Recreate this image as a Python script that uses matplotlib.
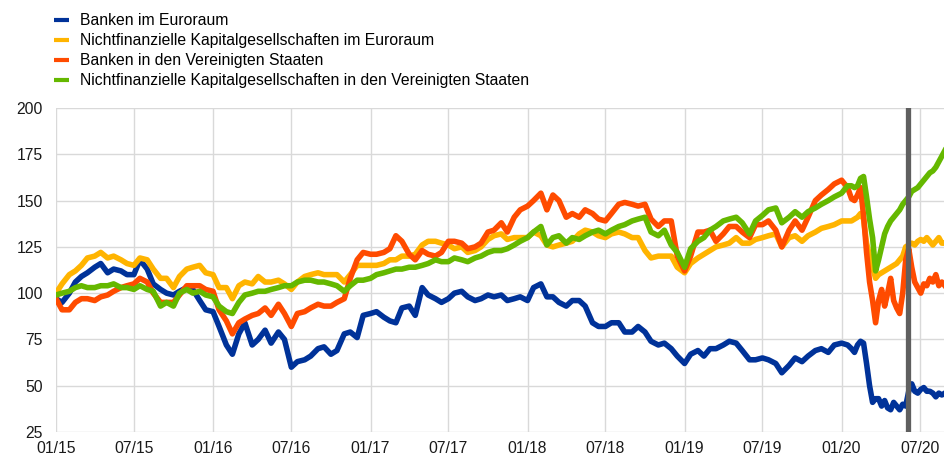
import pandas as pd
import matplotlib
matplotlib.use("Agg")
from matplotlib import pyplot as plt
import matplotlib.dates as mdates

plt.rcParams['font.family'] = ['Liberation Sans', 'DejaVu Sans']

# semi-monthly up to mid January 2020, weekly afterwards
dates = pd.date_range('2015-01-01', '2020-01-15', freq='SMS').append(
    pd.date_range('2020-01-24', '2020-08-28', freq='W-FRI'))

banken_ea = [97, 95, 100, 106, 109, 111, 114, 116, 111, 113, 112, 110,
             110, 118, 113, 105, 102, 100, 99, 101, 103, 102, 96, 91,
             90, 82, 72, 67, 78, 84, 72, 75, 80, 73, 79, 75,
             60, 63, 64, 66, 70, 71, 67, 69, 78, 79, 76, 88,
             89, 90, 87, 85, 84, 92, 93, 88, 103, 99, 97, 95,
             97, 100, 101, 98, 96, 97, 99, 98, 99, 96, 97, 98,
             96, 103, 105, 98, 98, 95, 93, 96, 96, 93, 84, 82,
             82, 84, 84, 79, 79, 82, 79, 74, 72, 73, 70, 66,
             62, 67, 69, 66, 70, 70, 72, 74, 73, 69, 64, 64,
             65, 64, 62, 57, 61, 65, 63, 66, 69, 70, 68, 72,
             73, 72,
             70, 68, 72, 74, 73, 62, 50, 41, 43, 43, 39, 42, 38, 37, 41, 39,
             37, 40, 39, 47, 51, 47, 46, 48, 49, 47, 47, 46, 44, 46, 45, 46]

nfc_ea = [100, 105, 110, 112, 115, 119, 120, 122, 119, 120, 118, 116,
          115, 119, 118, 113, 108, 108, 103, 109, 113, 114, 115, 111,
          110, 103, 103, 97, 104, 106, 105, 109, 106, 106, 107, 105,
          102, 106, 109, 110, 111, 110, 110, 110, 106, 110, 115, 115,
          115, 115, 116, 118, 118, 120, 120, 121, 126, 128, 128, 127,
          126, 124, 125, 122, 123, 125, 129, 131, 132, 129, 130, 130,
          130, 133, 131, 126, 125, 126, 127, 128, 132, 134, 133, 131,
          130, 132, 133, 132, 130, 130, 123, 119, 120, 120, 120, 114,
          111, 116, 119, 121, 123, 125, 126, 127, 130, 127, 127, 129,
          130, 131, 132, 125, 130, 131, 128, 131, 133, 135, 136, 137,
          139, 139,
          139, 140, 141, 143, 140, 127, 120, 114, 108, 110, 111, 112, 113, 114, 115, 116,
          118, 120, 125, 126, 127, 126, 128, 129, 128, 130, 128, 126, 128, 130, 127, 127]

banken_us = [97, 91, 91, 95, 97, 97, 96, 98, 99, 101, 103, 104,
             105, 108, 106, 100, 95, 95, 95, 99, 104, 104, 104, 102,
             101, 91, 85, 78, 84, 86, 88, 89, 92, 88, 94, 89,
             82, 89, 90, 92, 94, 93, 93, 95, 97, 108, 118, 122,
             121, 121, 122, 124, 131, 128, 121, 118, 123, 121, 120, 122,
             128, 128, 127, 124, 125, 127, 133, 134, 138, 133, 141, 145,
             147, 150, 154, 145, 153, 150, 141, 143, 141, 145, 143, 140,
             139, 143, 148, 149, 148, 147, 148, 140, 136, 139, 139, 120,
             112, 120, 133, 133, 134, 128, 132, 136, 136, 133, 130, 137,
             137, 139, 134, 125, 134, 139, 134, 141, 150, 153, 156, 159,
             161, 157,
             151, 150, 153, 157, 142, 122, 106, 96, 84, 96, 102, 93, 100, 108, 96, 92,
             89, 100, 118, 124, 114, 106, 103, 100, 105, 104, 108, 106, 110, 104, 106, 104]

nfc_us = [99, 100, 101, 103, 104, 103, 103, 104, 104, 105, 103, 103,
          102, 104, 102, 101, 93, 95, 93, 100, 102, 100, 101, 99,
          98, 93, 90, 89, 95, 99, 100, 101, 101, 102, 103, 104,
          104, 106, 107, 107, 106, 106, 105, 104, 101, 104, 107, 107,
          108, 110, 111, 112, 113, 113, 114, 114, 115, 116, 118, 117,
          117, 119, 118, 117, 119, 120, 122, 123, 123, 124, 126, 128,
          130, 133, 136, 126, 130, 131, 127, 130, 129, 131, 133, 134,
          132, 134, 136, 137, 139, 140, 141, 133, 131, 134, 126, 122,
          114, 124, 128, 130, 134, 136, 139, 140, 141, 138, 132, 139,
          142, 145, 146, 138, 141, 144, 141, 144, 146, 148, 150, 152,
          154, 158,
          158, 157, 158, 162, 163, 152, 140, 130, 112, 118, 125, 132, 136, 139, 141, 143,
          145, 148, 150, 152, 155, 156, 157, 159, 161, 163, 165, 166, 168, 171, 174, 177]

labels = ['Banken im Euroraum',
          'Nichtfinanzielle Kapitalgesellschaften im Euroraum',
          'Banken in den Vereinigten Staaten',
          'Nichtfinanzielle Kapitalgesellschaften in den Vereinigten Staaten']
colors = ['#003299', '#FFB400', '#FF4B00', '#65B800']
marker_date = '2020-06-04'

fig = plt.figure(figsize=(9.44, 4.57), dpi=100)
ax = fig.add_axes([56 / 944, 25 / 457, 888 / 944, 324 / 457])

for vals, lab, c in zip([banken_ea, nfc_ea, banken_us, nfc_us], labels, colors):
    ax.plot(dates, vals, color=c, lw=4, label=lab, solid_joinstyle='round')

ax.axvline(pd.Timestamp(marker_date), color='#5f5f5f', lw=3.8, zorder=5)

ax.set_xlim(pd.Timestamp('2015-01-01'), pd.Timestamp('2020-08-26'))
ax.set_ylim(25, 200)
ax.set_yticks(range(25, 201, 25))
ax.xaxis.set_major_locator(mdates.MonthLocator(bymonth=[1, 7]))
ax.xaxis.set_major_formatter(mdates.DateFormatter('%m/%y'))
ax.grid(True, color='#d9d9d9', lw=1)
ax.set_axisbelow(True)
for s in ax.spines.values():
    s.set_visible(False)
ax.tick_params(length=0, labelsize=11.3, colors='#1a1a1a')
ax.tick_params(axis='x', pad=6.5)
ax.tick_params(axis='y', pad=9.4)

leg = fig.legend(loc='upper left', bbox_to_anchor=(54 / 944, 1 - 13 / 457), frameon=False,
                 fontsize=11.3, handlelength=0.95, handletextpad=0.7, labelspacing=0.32,
                 borderaxespad=0, borderpad=0)
for h in leg.get_lines():
    h.set_linewidth(3)
    h.set_solid_capstyle('butt')

fig.savefig('out.png', dpi=100)
